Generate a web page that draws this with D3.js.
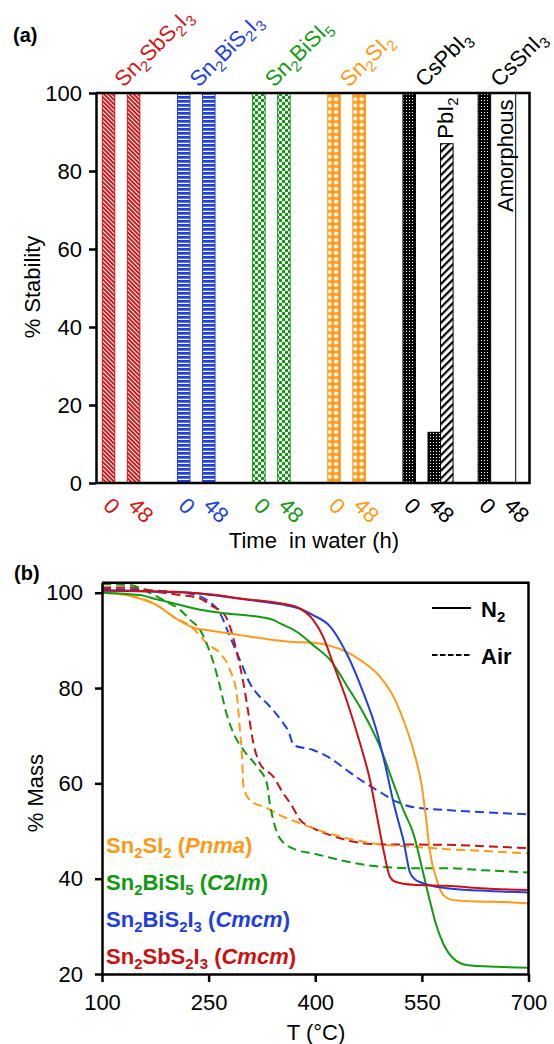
<!DOCTYPE html>
<html>
<head>
<meta charset="utf-8">
<script src="https://cdn.jsdelivr.net/npm/d3@7"></script>
<style>
  body { margin: 0; background: #fff; }
  svg { display: block; font-family: "Liberation Sans", Arial, sans-serif; }
</style>
</head>
<body>
<div id="chart"></div>
<script>
'use strict'

/*
 Data, panel (a): stability after 0 h and 48 h in water
*/
let compounds = ["Sn_2SbS_2I_3", "Sn_2BiS_2I_3", "Sn_2BiSI_5", "Sn_2SI_2", "CsPbI_3", "CsSnI_3"]
let groupColors = ["#d01818", "#1f3fe0", "#139a13", "#ff9a16", "#000000", "#000000"]
let timeLabels = ["0", "48"]
let stability0 = [100, 100, 100, 100, 100, 100]
let stability48 = [100, 100, 100, 100, 13, 100]
let pbi2At48 = [0, 0, 0, 0, 87, 0]
let fill0 = ["pRed", "pBlue", "pGreen", "pOrange", "pBlack", "pBlack"]
let fill48 = ["pRed", "pBlue", "pGreen", "pOrange", "pBlack", "white"]
let yTicksA = [0, 20, 40, 60, 80, 100]

/*
 Data, panel (b): TGA curves [T (°C), % mass]
*/
let n2Sn2SI2 = [[100,100],[130,99.6],[153,98.8],[177,97.4],[200,95],[215,93.6],[230,92.6],[250,92.1],[294,91.1],[341,90.1],[365,89.7],[397,89.5],[420,88.9],[444,87.6],[467,85.5],[491,82.4],[510,78.2],[524,73.3],[538,67],[550,59.3],[556,52.5],[561,46],[571,39.7],[580,36.6],[594,35.5],[632,35.2],[665,35.1],[700,34.8]]
let n2Sn2BiS2I3 = [[100,100.4],[150,100.3],[200,100.1],[224,100],[255,99.5],[300,98.6],[354,97.5],[379,96.6],[397,95.3],[421,92.9],[444,87.3],[468,78.9],[486,71.2],[500,62.8],[510,56],[517,52],[524,48.1],[533,41.4],[540,39.9],[547,39.3],[585,38],[632,37.5],[700,37.1]]
let n2Sn2SbS2I3 = [[100,100.5],[150,100.4],[200,100.2],[255,99.6],[300,98.7],[350,97.8],[374,97],[397,94.3],[411,90.8],[425,85.2],[444,77.5],[463,68.4],[477,60.7],[487,53],[496,46],[505,40.4],[512,39.4],[538,38.7],[585,38.5],[632,38],[700,37.6]]
let n2Sn2BiSI5 = [[100,100],[153,99.5],[177,98.6],[200,97.8],[224,96.9],[247,96.2],[271,95.7],[318,95],[341,94.3],[350,93.6],[374,91.8],[397,89],[421,85.9],[444,80.6],[468,74.7],[491,67.7],[510,60],[524,54.4],[538,49.5],[552,41.1],[561,35.5],[571,29.9],[580,26.4],[594,23.3],[613,21.9],[655,21.5],[700,21.3]]
let airSn2BiS2I3 = [[100,100.8],[150,100.6],[200,100.2],[224,99.8],[247,98.5],[266,95.7],[280,90.8],[294,85.9],[308,81],[320,78.5],[332,76.8],[355,72.6],[362,71],[370,68],[397,67],[421,65.3],[444,62.8],[468,60.3],[491,58.2],[515,56.1],[538,55],[585,54.4],[640,53.9],[700,53.5]]
let airSn2SbS2I3 = [[100,101.1],[139,101.1],[177,100.2],[210,99.5],[238,98.8],[257,97],[271,95.7],[280,92.9],[290,87.3],[299,81],[306,74.7],[313,68.4],[322,64.2],[341,61.4],[355,57.9],[365,55.8],[379,52.3],[397,50.6],[420,49.2],[444,48.1],[491,47.2],[585,47.1],[640,46.8],[700,46.4]]
let airSn2SI2 = [[100,100],[150,99],[177,97.4],[200,95],[224,93],[233,91.8],[247,89.4],[266,87.3],[280,83.8],[290,78.2],[294,71.2],[297,65.6],[299,59.3],[308,56.5],[332,54.8],[355,53],[374,51.9],[397,50.6],[444,48.5],[491,47.2],[538,46.7],[585,46.2],[640,45.8],[700,45.3]]
let airSn2BiSI5 = [[100,101.8],[139,101.6],[168,99.9],[191,98.1],[210,96.4],[224,94.3],[238,92.2],[247,89.4],[257,85.2],[266,80.3],[275,74.7],[285,70.5],[299,67],[318,63.5],[332,60],[336,55.8],[341,52.3],[350,48.5],[374,46],[397,45.3],[444,43.6],[491,42.5],[538,42.2],[585,42.2],[632,41.8],[700,41.3]]

let xTicksB = [100, 250, 400, 550, 700]
let yTicksB = [20, 40, 60, 80, 100]
let legendNames = ["Sn_2SI_2 (*Pnma*)", "Sn_2BiSI_5 (*C*2/*m*)", "Sn_2BiS_2I_3 (*Cmcm*)", "Sn_2SbS_2I_3 (*Cmcm*)"]
let legendColors = ["#ff9a16", "#139a13", "#1f3fe0", "#cc1111"]

/*
 Setup
*/
let width = 554
let height = 1044
let fs = 22
let lineW = 2.5

let svg = d3.select("#chart").append("svg")
  .attr("width", width)
  .attr("height", height)

// split "Sn_2SbS_2I_3 (*Cmcm*)" into pieces: subscripts and italics
function parts(label) {
  return label.split(/(_\d|\*[^*]+\*)/).filter(s => s.length).map(s => {
    if (s[0] == "_") return {t: s.slice(1), sub: true}
    if (s[0] == "*") return {t: s.slice(1, -1), it: true}
    return {t: s}
  })
}
function rich(textSel, label, size) {
  let shift = 0
  parts(label).forEach(p => {
    let want = p.sub ? size * 0.24 : 0
    textSel.append("tspan")
      .attr("dy", want - shift)
      .style("font-size", (p.sub ? size * 0.68 : size) + "px")
      .style("font-style", p.it ? "italic" : null)
      .text(p.t)
    shift = want
  })
  return textSel
}

/*
 Patterns
*/
let defs = svg.append("defs")
function stripes(id, color, period, w, angle) {
  let p = defs.append("pattern").attr("id", id)
    .attr("patternUnits", "userSpaceOnUse")
    .attr("width", period).attr("height", period)
    .attr("patternTransform", "rotate(" + angle + ")")
  p.append("rect").attr("width", period).attr("height", period).attr("fill", "#fff")
  p.append("rect").attr("width", w).attr("height", period).attr("fill", color)
}
stripes("pRed", "#d01818", 3, 2, -45)
stripes("pHatch", "#000", 5.5, 2.2, 45)
stripes("pBlue", "#1f3fe0", 4, 2.7, 90)

let pg = defs.append("pattern").attr("id", "pGreen")
  .attr("patternUnits", "userSpaceOnUse").attr("width", 6).attr("height", 6)
pg.append("rect").attr("width", 6).attr("height", 6).attr("fill", "#fff")
pg.append("rect").attr("width", 3).attr("height", 3).attr("fill", "#139a13")
pg.append("rect").attr("x", 3).attr("y", 3).attr("width", 3).attr("height", 3).attr("fill", "#139a13")

let po = defs.append("pattern").attr("id", "pOrange")
  .attr("patternUnits", "userSpaceOnUse").attr("width", 6.4).attr("height", 6.4)
po.append("rect").attr("width", 6.4).attr("height", 6.4).attr("fill", "#ff9a16")
po.append("circle").attr("cx", 3.2).attr("cy", 3.2).attr("r", 2.1).attr("fill", "#fff")

let pk = defs.append("pattern").attr("id", "pBlack")
  .attr("patternUnits", "userSpaceOnUse").attr("width", 3).attr("height", 3)
pk.append("rect").attr("width", 3).attr("height", 3).attr("fill", "#000")
pk.append("rect").attr("x", 1).attr("y", 1).attr("width", 1).attr("height", 1).attr("fill", "#fff")

/*
 Panel (a)
*/
let xA = d3.scaleLinear().domain([0, 17.3]).range([96, 529.5])
let yA = d3.scaleLinear().domain([0, 100]).range([483, 93])
let barW = xA(0.5) - xA(0)
let gA = svg.append("g")

function bar(slot, off, val, fill, stroke) {
  gA.append("rect")
    .attr("x", xA(slot + 0.25) + off)
    .attr("y", yA(val))
    .attr("width", barW)
    .attr("height", yA(0) - yA(val))
    .attr("fill", fill == "white" ? "#fff" : "url(#" + fill + ")")
    .attr("stroke", fill == "white" ? "none" : stroke)
    .attr("stroke-width", 1)
}

compounds.forEach((c, g) => {
  bar(3 * g, 0, stability0[g], fill0[g], groupColors[g])
  if (stability48[g] > 0) bar(3 * g + 1, 0, stability48[g], fill48[g], groupColors[g])
  if (pbi2At48[g] > 0) bar(3 * g + 1, barW, pbi2At48[g], "pHatch", "#000")
  if (fill48[g] == "white") {
    gA.append("line")
      .attr("x1", xA(3 * g + 1.75)).attr("x2", xA(3 * g + 1.75))
      .attr("y1", yA(stability48[g])).attr("y2", yA(0))
      .attr("stroke", "#000").attr("stroke-width", 1)
  }
  // compound names on top
  let cx = xA(3 * g + 1) + 2.5
  rich(gA.append("text")
    .attr("transform", "translate(" + cx + ",88) rotate(-45)")
    .attr("fill", groupColors[g]), c, 22)
  // time labels below
  timeLabels.forEach((t, k) => {
    let tx = xA(3 * g + k + 0.5) - 6.5
    gA.append("text")
      .attr("transform", "translate(" + tx + ",507) rotate(45)")
      .attr("fill", groupColors[g])
      .style("font-size", fs + "px")
      .text(t)
  })
})

// PbI2 and Amorphous tags
rich(gA.append("text")
  .attr("transform", "translate(" + (xA(13.75) + barW / 2 + 6) + "," + (yA(pbi2At48[4]) - 5) + ") rotate(-90)"),
  "PbI_2", fs)
gA.append("text")
  .attr("transform", "translate(" + (xA(16.75) - 3) + ",212) rotate(-90)")
  .style("font-size", fs + "px")
  .text("Amorphous")

// frame
let axA = gA.append("g")
  .attr("transform", "translate(" + xA(0) + ",0)")
  .call(d3.axisLeft(yA).tickValues(yTicksA).tickSize(7).tickSizeOuter(0).tickPadding(7))
axA.selectAll("text").style("font-size", fs + "px").attr("fill", "#000").attr("font-family", null)
axA.selectAll("line, path").attr("stroke", "#000").attr("stroke-width", lineW)
gA.append("path")
  .attr("d", "M" + xA(0) + "," + yA(0) + "H" + xA(17.3) + "V" + yA(100) + "H" + xA(0))
  .attr("fill", "none").attr("stroke", "#000").attr("stroke-width", lineW)

gA.append("text").attr("x", 13).attr("y", 42)
  .style("font-size", "20px").style("font-weight", "bold").text("(a)")
gA.append("text")
  .attr("transform", "translate(40,287) rotate(-90)")
  .attr("text-anchor", "middle")
  .style("font-size", fs + "px")
  .text("% Stability")
gA.append("text")
  .attr("x", 314).attr("y", 548)
  .attr("text-anchor", "middle")
  .style("font-size", fs + "px")
  .text("Time\u00a0 in water (h)")

/*
 Panel (b)
*/
let xB = d3.scaleLinear().domain([100, 700]).range([102, 528.5])
let yB = d3.scaleLinear().domain([20, 102.1]).range([974, 582.7])
let gB = svg.append("g")

defs.append("clipPath").attr("id", "clipB")
  .append("rect")
  .attr("x", xB(100)).attr("y", yB(102.1))
  .attr("width", xB(700) - xB(100)).attr("height", yB(20) - yB(102.1))

let line = d3.line()
  .x(d => xB(d[0]))
  .y(d => yB(d[1]))
  .curve(d3.curveMonotoneX)

let curves = [
  {data: airSn2BiS2I3, color: "#1f3fe0", dash: "9,5"},
  {data: airSn2SbS2I3, color: "#cc1111", dash: "9,5"},
  {data: airSn2SI2, color: "#ff9a16", dash: "9,5"},
  {data: airSn2BiSI5, color: "#139a13", dash: "9,5"},
  {data: n2Sn2SI2, color: "#ff9a16", dash: null},
  {data: n2Sn2BiSI5, color: "#139a13", dash: null},
  {data: n2Sn2BiS2I3, color: "#1f3fe0", dash: null},
  {data: n2Sn2SbS2I3, color: "#cc1111", dash: null}
]
let plotB = gB.append("g").attr("clip-path", "url(#clipB)")
curves.forEach(c => {
  plotB.append("path")
    .attr("d", line(c.data))
    .attr("fill", "none")
    .attr("stroke", c.color)
    .attr("stroke-width", 2)
    .attr("stroke-dasharray", c.dash)
})

let axBy = gB.append("g")
  .attr("transform", "translate(" + xB(100) + ",0)")
  .call(d3.axisLeft(yB).tickValues(yTicksB).tickSize(7).tickSizeOuter(0).tickPadding(12))
let axBx = gB.append("g")
  .attr("transform", "translate(0," + yB(20) + ")")
  .call(d3.axisBottom(xB).tickValues(xTicksB).tickSize(8).tickSizeOuter(0).tickPadding(12))
gB.selectAll(".tick text").style("font-size", fs + "px").attr("fill", "#000")
gB.selectAll(".domain, .tick line").attr("stroke", "#000").attr("stroke-width", lineW)
gB.append("path")
  .attr("d", "M" + xB(100) + "," + yB(102.1) + "H" + xB(700) + "V" + yB(20))
  .attr("fill", "none").attr("stroke", "#000").attr("stroke-width", lineW)

gB.append("text").attr("x", 14).attr("y", 580)
  .style("font-size", "20px").style("font-weight", "bold").text("(b)")
gB.append("text")
  .attr("transform", "translate(43,793) rotate(-90)")
  .attr("text-anchor", "middle")
  .style("font-size", fs + "px")
  .text("% Mass")
gB.append("text")
  .attr("x", 316).attr("y", 1040)
  .attr("text-anchor", "middle")
  .style("font-size", fs + "px")
  .text("T (°C)")

// compound legend
legendNames.forEach((n, i) => {
  rich(gB.append("text")
    .attr("x", 106).attr("y", 853 + i * 37)
    .attr("fill", legendColors[i])
    .style("font-weight", "bold"), n, 22)
})

// atmosphere legend
let atm = [{lab: "N_2", dash: null}, {lab: "Air", dash: "5.5,2.5"}]
atm.forEach((a, i) => {
  let ly = 608 + i * 47
  gB.append("line")
    .attr("x1", 432).attr("x2", 471).attr("y1", ly).attr("y2", ly)
    .attr("stroke", "#000").attr("stroke-width", 1.8)
    .attr("stroke-dasharray", a.dash)
  rich(gB.append("text")
    .attr("x", 481).attr("y", ly + 9)
    .style("font-weight", "bold"), a.lab, 22)
})
</script>
</body>
</html>
